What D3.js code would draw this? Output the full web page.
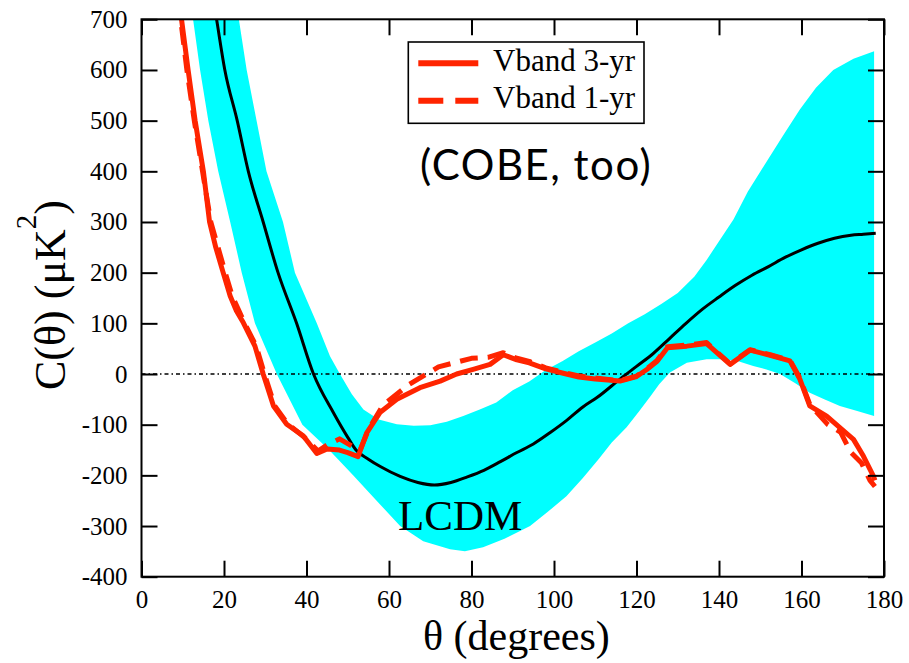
<!DOCTYPE html>
<html>
<head>
<meta charset="utf-8">
<script src="https://cdn.jsdelivr.net/npm/d3@7"></script>
<style>
  html, body { margin: 0; padding: 0; background: #fff; }
  svg { display: block; }
</style>
</head>
<body>
<svg id="chart" width="909" height="663"></svg>
<script>
// Angular correlation function C(theta): LCDM expectation with its cosmic-variance
// band, and the WMAP V-band measurements (3-year and 1-year).

const xTicks = [0, 20, 40, 60, 80, 100, 120, 140, 160, 180];
const yTicks = [-400, -300, -200, -100, 0, 100, 200, 300, 400, 500, 600, 700];

// LCDM best fit (degrees, muK^2)
const lcdmTheta = [17, 18.2, 20.2, 23.2, 25.9, 29.5, 33.1, 37.6, 41.7, 46.5, 50, 52, 55, 58, 62.7, 67, 71,
  75, 79, 83, 87, 91, 95, 99, 103, 107, 110.5, 116, 120, 124, 128, 132, 136, 140, 144, 148, 152, 156,
  160, 164, 168, 172, 175, 178];
const lcdmC = [760, 700, 600, 500, 400, 300, 200, 100, 0, -76, -125, -150, -168, -183, -202, -214, -219,
  -214, -203, -190, -173, -155, -138, -116, -92, -65, -46, -10, 15, 40, 70, 100, 128, 152, 175, 195, 212, 230,
  245, 258, 268, 274, 276, 278];

// Cosmic-variance band: upper edge
const bandHiTheta = [22.8, 23.6, 25.5, 27.9, 30.3, 34.3, 37.2, 42.5, 45.7, 48.1, 51, 53.8, 57.5, 61.9, 66,
  70, 74, 78, 82, 86, 90, 94, 98, 102, 106, 110, 114, 118, 122, 126, 130, 134, 137, 140, 143.5, 147,
  151.6, 155.5, 159.6, 163.5, 167.7, 172.6, 177.6];
const bandHiC = [760, 700, 600, 500, 400, 300, 200, 100, 35, 0, -40, -70, -90, -99, -102,
  -101, -94, -83, -70, -56, -32, -15, 8, 25, 45, 62, 80, 100, 118, 138, 160, 192, 225, 262, 305, 360,
  420, 470, 522, 565, 600, 622, 637];

// Cosmic-variance band: lower edge
const bandLoTheta = [11.9, 12.5, 14.2, 16.2, 18.6, 21.5, 24.3, 27.5, 32.8, 39, 45.5, 51.3, 57, 62.7, 68.3,
  74.8, 78.4, 82.8, 88, 94.2, 98.5, 103, 107, 110.8, 114, 117.6, 120.5, 123.3, 125.5, 128.1, 132.2, 137,
  141, 144.3, 148.3, 151.5, 154.8, 158.5, 162, 165.5, 169.3, 173.5, 177.6];
const bandLoC = [760, 700, 600, 500, 400, 300, 200, 100, 0, -100, -150, -200, -250, -300, -330,
  -346, -350, -342, -325, -300, -272, -241, -205, -168, -135, -105, -75, -45, -20, 3, 22, 29,
  29, 26, 16, 9, 0, -18, -37, -50, -63, -73, -83];

// WMAP V-band, 3-year
const v3Theta = [9.4, 9.7, 11.3, 13, 15, 16.5, 18, 19.8, 21.5, 23, 24.7, 27.5, 29.5, 32, 35.2, 39.2, 42.5,
  45, 48, 50, 52.5, 54.6, 57.8, 61.9, 67.5, 72.4, 76.4, 80.4, 84.5, 87.7, 91, 94, 98, 102, 106, 110, 116,
  120, 122.5, 125, 127.5, 132.2, 137, 142.7, 147.5, 152.4, 157.2, 159.6, 162, 166.1, 169.3, 172.6, 175,
  177.4, 177.8];
const v3C = [740, 700, 600, 500, 400, 300, 250, 200, 154, 125, 101, 55, 0, -63, -99, -122, -157,
  -148, -150, -155, -163, -116, -76, -50, -27, -14, 0, 9, 19, 38, 28, 22, 10, 2, -6, -10, -14,
  -5, 9, 25, 52, 55, 60, 19, 47, 37, 26, -10, -63, -83, -106, -129, -162,
  -201, -210];

// WMAP V-band, 1-year
const v1Theta = [9.2, 9.5, 11, 12.8, 14.8, 16.8, 20.3, 22, 25, 27.8, 29.8, 32.3, 35.5, 39.5, 42.8, 45, 48,
  50.5, 53, 55, 58.5, 64.6, 72, 80, 84, 87.7, 91, 94, 98, 102, 106, 110, 116, 120, 122.5, 125, 127.5,
  132.2, 137, 142.7, 147.5, 152.4, 157.2, 159.6, 162, 166.4, 169.5, 172, 174.5, 176.6, 177.8];
const v1C = [740, 700, 600, 500, 400, 300, 200, 154, 100, 55, 0, -63, -99, -125, -152, -140, -128,
  -140, -150, -110, -62, -22, 14, 31, 33, 42, 31, 25, 12, 4, -4, -8, -13, -4, 10, 27, 54,
  57, 62, 20, 48, 38, 27, -8, -60, -100, -115, -155, -175, -210, -222];

const legendLabels = ["Vband 3-yr", "Vband 1-yr"];

const red = "#ff2400";
const serif = '"Liberation Serif", "Times New Roman", serif';
const svg = d3.select("#chart");
const margin = { left: 141.5, right: 884, top: 19.3, bottom: 576.7 };

const x = d3.scaleLinear().domain([0, 180]).range([margin.left, margin.right]);
const y = d3.scaleLinear().domain([-400, 700]).range([margin.bottom, margin.top]);

svg.append("defs").append("clipPath").attr("id", "plotClip")
  .append("rect")
  .attr("x", margin.left).attr("y", margin.top)
  .attr("width", margin.right - margin.left).attr("height", margin.bottom - margin.top);

const plot = svg.append("g").attr("clip-path", "url(#plotClip)");

// Band polygon: upper edge forward, lower edge back
const hiPts = bandHiTheta.map((t, i) => [t, bandHiC[i]]);
const loPts = bandLoTheta.map((t, i) => [t, bandLoC[i]]).reverse();
const poly = d3.line().x(d => x(d[0])).y(d => y(d[1]));
plot.append("path")
  .attr("d", poly(hiPts.concat(loPts)) + "Z")
  .attr("fill", "#00ffff")
  .attr("stroke", "none");

// Zero reference line
plot.append("line")
  .attr("x1", x(0)).attr("x2", x(180))
  .attr("y1", y(0)).attr("y2", y(0))
  .attr("stroke", "#000").attr("stroke-width", 1.6)
  .attr("stroke-dasharray", "4,3,1.5,3");

const curve = d3.line().x(d => x(d[0])).y(d => y(d[1])).curve(d3.curveMonotoneX);

// LCDM curve
plot.append("path")
  .attr("d", curve(lcdmTheta.map((t, i) => [t, lcdmC[i]])))
  .attr("fill", "none").attr("stroke", "#000").attr("stroke-width", 3);

const straight = d3.line().x(d => x(d[0])).y(d => y(d[1]));

// 1-year data (dashed)
plot.append("path")
  .attr("d", straight(v1Theta.map((t, i) => [t, v1C[i]])))
  .attr("fill", "none").attr("stroke", red).attr("stroke-width", 5)
  .attr("stroke-linejoin", "round")
  .attr("stroke-dasharray", "18,10");

// 3-year data (solid)
plot.append("path")
  .attr("d", straight(v3Theta.map((t, i) => [t, v3C[i]])))
  .attr("fill", "none").attr("stroke", red).attr("stroke-width", 5)
  .attr("stroke-linejoin", "round");

// Axes: ticks inward on all four sides
const tickLen = 16;
const fmt = d => String(d);
const axB = svg.append("g").attr("transform", `translate(0,${margin.bottom})`)
  .call(d3.axisBottom(x).tickValues(xTicks).tickSize(-tickLen).tickPadding(14).tickFormat(fmt));
const axL = svg.append("g").attr("transform", `translate(${margin.left},0)`)
  .call(d3.axisLeft(y).tickValues(yTicks).tickSize(-tickLen).tickPadding(14).tickFormat(fmt));
const axT = svg.append("g").attr("transform", `translate(0,${margin.top})`)
  .call(d3.axisTop(x).tickValues(xTicks).tickSize(-tickLen).tickFormat(""));
const axR = svg.append("g").attr("transform", `translate(${margin.right},0)`)
  .call(d3.axisRight(y).tickValues(yTicks).tickSize(-tickLen).tickFormat(""));

[axB, axL, axT, axR].forEach(a => {
  a.attr("font-family", serif).attr("font-size", 25);
  a.select(".domain").remove();
  a.selectAll(".tick line").attr("stroke", "#000").attr("stroke-width", 2);
  a.selectAll(".tick text").attr("fill", "#000");
});

svg.append("rect")
  .attr("x", margin.left).attr("y", margin.top)
  .attr("width", margin.right - margin.left).attr("height", margin.bottom - margin.top)
  .attr("fill", "none").attr("stroke", "#000").attr("stroke-width", 2);

// Axis titles
svg.append("text")
  .attr("x", 423).attr("y", 650)
  .attr("font-family", serif).attr("font-size", 42)
  .text("θ (degrees)");

const yTitle = svg.append("text")
  .attr("transform", "translate(65,390) rotate(-90)")
  .attr("font-family", serif).attr("font-size", 44);
yTitle.append("tspan").text("C(θ) (μK");
yTitle.append("tspan").attr("font-size", 29).attr("dy", -29).text("2");
yTitle.append("tspan").attr("dy", 29).text(")");

// Legend
const lg = svg.append("g");
lg.append("rect")
  .attr("x", 408.3).attr("y", 42).attr("width", 235.7).attr("height", 81.3)
  .attr("fill", "#fff").attr("stroke", "#000").attr("stroke-width", 1.6);
const rows = [{ y: 63.3, dash: null }, { y: 100.7, dash: "25,12" }];
rows.forEach((r, i) => {
  lg.append("line")
    .attr("x1", 418.3).attr("x2", 478.3).attr("y1", r.y).attr("y2", r.y)
    .attr("stroke", red).attr("stroke-width", 6)
    .attr("stroke-dasharray", r.dash);
  lg.append("text")
    .attr("x", 493).attr("y", r.y + 7.5)
    .attr("font-family", serif).attr("font-size", 31)
    .text(legendLabels[i]);
});

// Annotations
svg.append("text")
  .attr("x", 420).attr("y", 180)
  .attr("font-family", 'Lato, "Noto Sans", sans-serif').attr("font-size", 42)
  .attr("letter-spacing", 1.5)
  .text("(COBE, too)");

svg.append("text")
  .attr("x", 398).attr("y", 530)
  .attr("font-family", serif).attr("font-size", 43)
  .text("LCDM");
</script>
</body>
</html>
